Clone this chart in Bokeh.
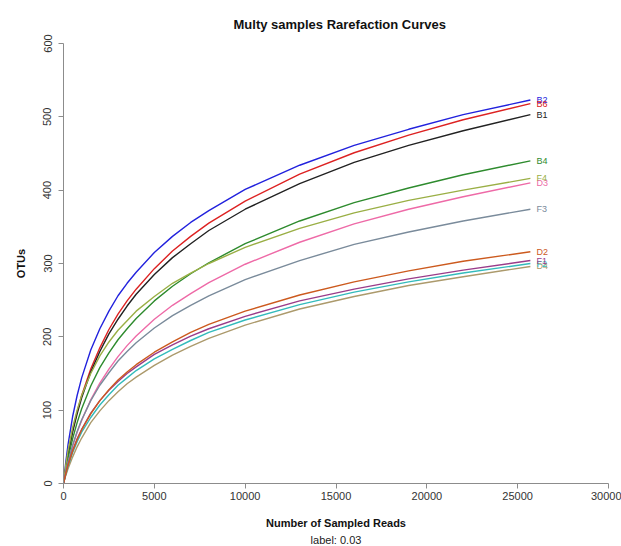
from bokeh.plotting import figure
from bokeh.models import Range1d, Title, ColumnDataSource, FixedTicker
from bokeh.core.properties import value
from bokeh.embed import file_html
from bokeh.resources import INLINE

# ---- data ----
reads = [0, 125, 250, 500, 750, 1000, 1500, 2000, 2500, 3000, 3500, 4000, 5000, 6000,
         7000, 8000, 10000, 13000, 16000, 19000, 22000, 25700]

B2 = [0, 29, 53, 91, 120, 144, 182, 211, 235, 256, 273, 288, 315, 337, 356, 372, 401, 434, 461, 483, 503, 523]
B6 = [0, 21, 40, 72, 98, 120, 156, 185, 210, 231, 249, 265, 293, 317, 337, 355, 385, 422, 451, 475, 496, 518]
B1 = [0, 21, 39, 70, 95, 117, 152, 180, 204, 224, 242, 258, 285, 308, 327, 345, 374, 409, 438, 461, 481, 503]
B4 = [0, 18, 34, 61, 83, 102, 133, 158, 178, 196, 211, 225, 249, 269, 286, 301, 327, 358, 383, 403, 421, 440]
F4 = [0, 25, 45, 76, 100, 120, 150, 174, 193, 209, 222, 235, 255, 273, 287, 300, 322, 348, 369, 386, 400, 416]
D3 = [0, 15, 28, 51, 70, 86, 114, 137, 156, 173, 188, 201, 224, 243, 259, 274, 299, 329, 354, 374, 391, 410]
F3 = [0, 16, 29, 52, 71, 87, 113, 134, 151, 167, 180, 192, 212, 229, 243, 256, 278, 304, 326, 343, 358, 374]
D2 = [0, 13, 25, 44, 60, 73, 95, 113, 128, 141, 152, 162, 179, 193, 206, 217, 235, 257, 275, 290, 303, 316]
F1 = [0, 14, 26, 45, 61, 74, 96, 113, 127, 139, 150, 159, 176, 189, 201, 211, 228, 249, 265, 279, 291, 304]
F2 = [0, 12, 23, 42, 57, 70, 90, 107, 121, 134, 144, 154, 170, 183, 195, 206, 223, 244, 261, 275, 287, 300]
D4 = [0, 11, 20, 36, 50, 62, 83, 99, 113, 125, 136, 145, 161, 175, 187, 198, 216, 238, 255, 270, 282, 296]

sample_names = ["B2", "B6", "B1", "B4", "D3", "F4", "F3", "D4", "F2", "F1", "D2"]
sample_values = [B2, B6, B1, B4, D3, F4, F3, D4, F2, F1, D2]
sample_colors = ["#2222DD", "#DD2222", "#222222", "#2E8B2E", "#EE6AA7", "#9AAF45",
                 "#7A8B9B", "#AC9A6C", "#33BBBB", "#9A3C8A", "#CC5A1E"]

x_ticks = [0, 5000, 10000, 15000, 20000, 25000, 30000]
x_tick_labels = ["0", "5000", "10000", "15000", "20000", "25000", "30000"]
y_ticks = [0, 100, 200, 300, 400, 500, 600]
y_tick_labels = ["0", "100", "200", "300", "400", "500", "600"]

FONT = "Liberation Sans"

p = figure(width=621, height=546, x_range=Range1d(0, 30000), y_range=Range1d(0, 600),
           output_backend="svg", toolbar_location=None,
           min_border_left=63, min_border_right=13, min_border_top=43, min_border_bottom=63)
p.outline_line_color = None
p.grid.visible = False
p.background_fill_color = "white"
p.border_fill_color = "white"

p.title.text = "Multy samples Rarefaction Curves"
p.title.align = "left"
p.title.offset = 170
p.title.text_font = FONT
p.title.text_font_size = "13px"
p.title.text_font_style = "bold"
p.title.text_color = "#111111"
p.title.standoff = 24

for ax in (p.xaxis[0], p.yaxis[0]):
    ax.axis_line_color = "#8c8c8c"
    ax.major_tick_line_color = "#8c8c8c"
    ax.major_tick_in = 0
    ax.major_tick_out = 5
    ax.minor_tick_line_color = None
    ax.major_label_text_font = FONT
    ax.major_label_text_font_size = "11px"
    ax.major_label_text_color = "#333333"
    ax.axis_label_text_font = FONT
    ax.axis_label_text_font_size = "11px"
    ax.axis_label_text_font_style = "bold"
    ax.axis_label_text_color = "#111111"

p.xaxis.ticker = FixedTicker(ticks=x_ticks)
p.xaxis.major_label_overrides = dict(zip(x_ticks, x_tick_labels))
p.xaxis.major_label_standoff = 3
p.xaxis.axis_label = "Number of Sampled Reads"
p.xaxis.axis_label_standoff = 14

p.yaxis.ticker = FixedTicker(ticks=y_ticks)
p.yaxis.major_label_overrides = dict(zip(y_ticks, y_tick_labels))
p.yaxis.major_label_orientation = "vertical"
p.yaxis.major_label_standoff = 7
p.yaxis.axis_label = "OTUs"
p.yaxis.axis_label_standoff = 14

sub = Title(text="label: 0.03", align="center", text_font=FONT, text_font_size="11px",
            text_font_style="normal", text_color="#222222", standoff=0)
p.add_layout(sub, "below")

for name, vals, col in zip(sample_names, sample_values, sample_colors):
    p.line(reads, vals, line_color=col, line_width=1.4)

end_src = ColumnDataSource(dict(
    x=[reads[-1]] * len(sample_names),
    y=[v[-1] for v in sample_values],
    t=sample_names,
    c=sample_colors,
))
p.text(x="x", y="y", text="t", text_color="c", source=end_src, x_offset=6,
       text_font=value(FONT), text_font_size="9px", text_baseline="middle", text_align="left")

open("out.html", "w").write(file_html(p, INLINE))
